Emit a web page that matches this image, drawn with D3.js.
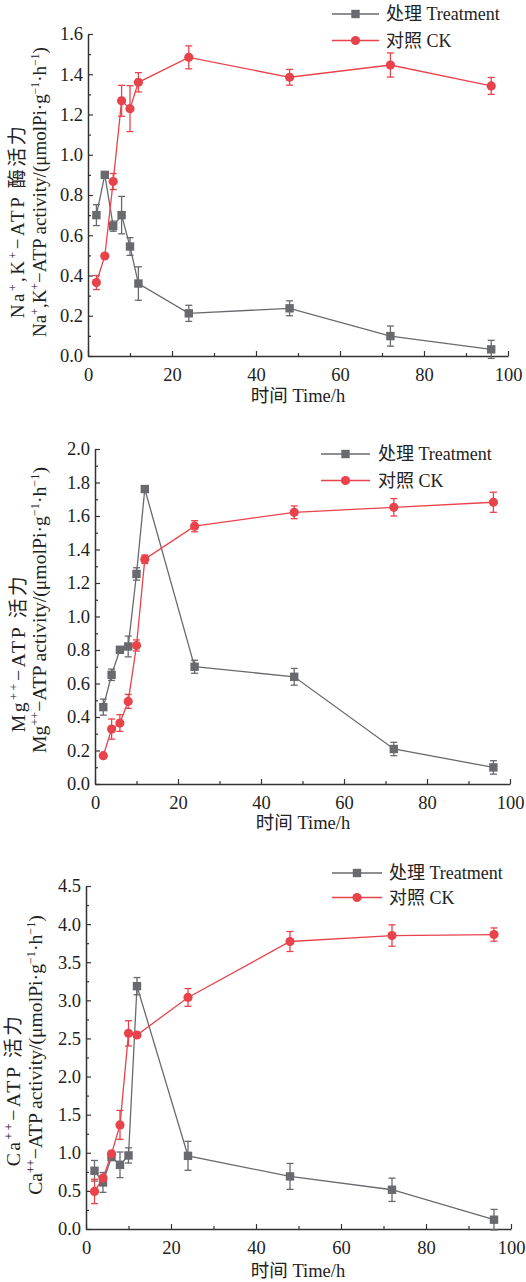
<!DOCTYPE html>
<html><head><meta charset="utf-8">
<script src="https://cdn.jsdelivr.net/npm/d3@7"></script>
<style>
body{margin:0;background:#fff;}
svg{display:block;}
text{font-family:"Liberation Serif","Noto Sans CJK SC",serif;fill:#222;}
</style></head>
<body>
<svg id="c" width="526" height="1282"></svg>
<script>
// ---------- data ----------
const time = [2, 4, 6, 8, 10, 12, 24, 48, 72, 96];
const xTicks = [0, 20, 40, 60, 80, 100];

// Na+,K+-ATP
const naTreat    = [0.70, 0.90, 0.645, 0.70, 0.544, 0.36, 0.212, 0.237, 0.099, 0.033];
const naTreatErr = [0.052, 0.012, 0.025, 0.093, 0.044, 0.083, 0.04, 0.037, 0.05, 0.045];
const naCK       = [0.365, 0.497, 0.867, 1.268, 1.229, 1.36, 1.484, 1.385, 1.446, 1.342];
const naCKErr    = [0.035, 0.01, 0.04, 0.077, 0.114, 0.048, 0.057, 0.039, 0.06, 0.042];
const naYTicks   = [0.0, 0.2, 0.4, 0.6, 0.8, 1.0, 1.2, 1.4, 1.6];

// Mg++-ATP
const mgTreat    = [0.459, 0.652, 0.801, 0.821, 1.254, 1.761, 0.70, 0.64, 0.209, 0.099];
const mgTreatErr = [0.048, 0.034, 0.02, 0.062, 0.037, 0.02, 0.039, 0.05, 0.04, 0.04];
const mgCK       = [0.169, 0.328, 0.364, 0.493, 0.827, 1.342, 1.539, 1.622, 1.652, 1.682];
const mgCKErr    = [0.01, 0.06, 0.05, 0.042, 0.033, 0.025, 0.033, 0.038, 0.052, 0.06];
const mgYTicks   = [0.0, 0.2, 0.4, 0.6, 0.8, 1.0, 1.2, 1.4, 1.6, 1.8, 2.0];

// Ca++-ATP
const caTreat    = [0.764, 0.611, 0.943, 0.842, 0.965, 3.186, 0.96, 0.69, 0.515, 0.122];
const caTreatErr = [0.135, 0.13, 0.036, 0.168, 0.1, 0.113, 0.19, 0.17, 0.153, 0.135];
const caCK       = [0.493, 0.668, 0.986, 1.366, 2.567, 2.545, 3.038, 3.772, 3.85, 3.863];
const caCKErr    = [0.16, 0.03, 0.03, 0.19, 0.166, 0.03, 0.116, 0.131, 0.14, 0.087];
const caYTicks   = [0.0, 0.5, 1.0, 1.5, 2.0, 2.5, 3.0, 3.5, 4.0, 4.5];

const legendLabels = ["处理 Treatment", "对照 CK"];
const xTitle = "时间 Time/h";

// ---------- style ----------
const colTreat = "#686a6e";
const colCK = "#e8434b";
const axisCol = "#333";

const svg = d3.select("#c");

function yTitleParts(ion) {
  if (ion === "na") return [
    [["Na",0],["+",1],[",K",0],["+",1],["−ATP 酶活力",0]],
    [["Na",0],["+",1],[",K",0],["+",1],["−ATP activity/(μmolPi·g",0],["−1",1],["·h",0],["−1",1],[")",0]]
  ];
  if (ion === "mg") return [
    [["Mg",0],["++",1],["−ATP 活力",0]],
    [["Mg",0],["++",1],["−ATP activity/(μmolPi·g",0],["−1",1],["·h",0],["−1",1],[")",0]]
  ];
  return [
    [["Ca",0],["++",1],["−ATP 活力",0]],
    [["Ca",0],["++",1],["−ATP activity/(μmolPi·g",0],["−1",1],["·h",0],["−1",1],[")",0]]
  ];
}

function panel(cfg) {
  const g = svg.append("g");
  const x = d3.scaleLinear().domain([0, 100]).range([cfg.left, cfg.right]);
  const y = d3.scaleLinear().domain([0, cfg.yTicks[cfg.yTicks.length - 1]]).range([cfg.bottom, cfg.top]);

  // minor ticks
  const xMinor = d3.range(10, 100, 20);
  g.append("g").attr("transform", `translate(0,${cfg.bottom})`)
    .call(d3.axisBottom(x).tickValues(xMinor).tickSize(-3).tickFormat("").tickSizeOuter(0))
    .call(s => s.select(".domain").remove())
    .selectAll("line").attr("stroke", axisCol).attr("stroke-width", 1.2);
  const yMinor = cfg.yTicks.slice(0, -1).map((v, i) => (v + cfg.yTicks[i + 1]) / 2);
  g.append("g").attr("transform", `translate(${cfg.left},0)`)
    .call(d3.axisLeft(y).tickValues(yMinor).tickSize(-3).tickFormat("").tickSizeOuter(0))
    .call(s => s.select(".domain").remove())
    .selectAll("line").attr("stroke", axisCol).attr("stroke-width", 1.2);

  // major axes
  const xa = g.append("g").attr("transform", `translate(0,${cfg.bottom})`)
    .call(d3.axisBottom(x).tickValues(xTicks).tickSize(-5).tickPadding(8).tickSizeOuter(0).tickFormat(d3.format("d")));
  const ya = g.append("g").attr("transform", `translate(${cfg.left},0)`)
    .call(d3.axisLeft(y).tickValues(cfg.yTicks).tickSize(-5).tickPadding(5).tickSizeOuter(0).tickFormat(d3.format(".1f")));
  [xa, ya].forEach(a => {
    a.select(".domain").attr("stroke", axisCol).attr("stroke-width", 1.5);
    a.selectAll(".tick line").attr("stroke", axisCol).attr("stroke-width", 1.2);
    a.selectAll(".tick text").attr("font-size", 18.5).attr("fill", "#222")
      .style("font-family", '"Liberation Serif",serif');
  });
  xa.selectAll(".tick text").attr("dy", "0.9em");

  // series
  const series = [
    {v: cfg.treat, e: cfg.treatErr, col: colTreat, shape: "sq"},
    {v: cfg.ck, e: cfg.ckErr, col: colCK, shape: "ci"}
  ];
  series.forEach(s => {
    const pts = time.map((t, i) => ({t, v: s.v[i], e: s.e[i]}));
    g.append("path").datum(pts)
      .attr("fill", "none").attr("stroke", s.col).attr("stroke-width", 1.3)
      .attr("d", d3.line().x(d => x(d.t)).y(d => y(d.v)));
    const eb = g.append("g").attr("stroke", s.col).attr("stroke-width", 1.3);
    pts.forEach(d => {
      const cx = x(d.t), y1 = y(d.v + d.e), y2 = y(d.v - d.e);
      eb.append("line").attr("x1", cx).attr("x2", cx).attr("y1", y1).attr("y2", y2);
      eb.append("line").attr("x1", cx - 3.5).attr("x2", cx + 3.5).attr("y1", y1).attr("y2", y1);
      eb.append("line").attr("x1", cx - 3.5).attr("x2", cx + 3.5).attr("y1", y2).attr("y2", y2);
    });
    const mk = g.append("g").attr("fill", s.col);
    pts.forEach(d => {
      if (s.shape === "sq") mk.append("rect").attr("x", x(d.t) - 4.2).attr("y", y(d.v) - 4.2).attr("width", 8.4).attr("height", 8.4);
      else mk.append("circle").attr("cx", x(d.t)).attr("cy", y(d.v)).attr("r", 4.6);
    });
  });

  // legend
  const L = cfg.legend;
  [[colTreat, "sq"], [colCK, "ci"]].forEach(([col, shape], i) => {
    const yy = L.y + i * L.dy;
    g.append("line").attr("x1", L.x1).attr("x2", L.x2).attr("y1", yy).attr("y2", yy)
      .attr("stroke", col).attr("stroke-width", 1.3);
    const mx = (L.x1 + L.x2) / 2;
    if (shape === "sq") g.append("rect").attr("x", mx - 4.2).attr("y", yy - 4.2).attr("width", 8.4).attr("height", 8.4).attr("fill", col);
    else g.append("circle").attr("cx", mx).attr("cy", yy).attr("r", 4.6).attr("fill", col);
    g.append("text").attr("x", L.tx).attr("y", yy).attr("dy", "0.35em")
      .attr("font-size", 18).text(legendLabels[i]);
  });

  // x title
  g.append("text").attr("x", cfg.xt[0]).attr("y", cfg.xt[1]).attr("text-anchor", "middle")
    .attr("font-size", 18.5).text(xTitle);

  // y titles: font size fitted so the long line spans its measured length,
  // short line uses same size plus a little letter spacing
  const parts = yTitleParts(cfg.ion);
  const mkTitle = (line, cx, cy, fs) => {
    const t = g.append("text").attr("transform", `translate(${cx},${cy}) rotate(-90)`)
      .attr("text-anchor", "middle").attr("dy", "0.35em").attr("font-size", fs);
    line.forEach(([txt, sup]) => {
      const ts = t.append("tspan").text(txt);
      if (sup) ts.attr("font-size", fs * 0.62).attr("baseline-shift", "super");
    });
    return t;
  };
  const [c2x, c2y, len2] = cfg.yt[1];
  const t2 = mkTitle(parts[1], c2x, c2y, 18);
  const fs = Math.min(22, 18 * len2 / t2.node().getComputedTextLength());
  t2.remove();
  mkTitle(parts[1], c2x, c2y, fs);
  const [c1x, c1y, len1] = cfg.yt[0];
  const t1 = mkTitle(parts[0], c1x, c1y, fs);
  const n1 = parts[0].map(p => p[0]).join("").length;
  const ls = Math.max(0, Math.min(2.5, (len1 - t1.node().getComputedTextLength()) / n1));
  t1.attr("letter-spacing", ls);
}

panel({ion: "na", left: 88, right: 508, top: 34, bottom: 356, yTicks: naYTicks,
  treat: naTreat, treatErr: naTreatErr, ck: naCK, ckErr: naCKErr,
  legend: {x1: 332, x2: 379, y: 14, dy: 26.5, tx: 386},
  xt: [298, 402], yt: [[17, 221, 215], [39, 192, 290]]});

panel({ion: "mg", left: 95, right: 510, top: 449, bottom: 784, yTicks: mgYTicks,
  treat: mgTreat, treatErr: mgTreatErr, ck: mgCK, ckErr: mgCKErr,
  legend: {x1: 321, x2: 370, y: 454, dy: 26.5, tx: 378},
  xt: [303, 829], yt: [[18, 653, 200], [39, 610, 286]]});

panel({ion: "ca", left: 86, right: 511, top: 886, bottom: 1229, yTicks: caYTicks,
  treat: caTreat, treatErr: caTreatErr, ck: caCK, ckErr: caCKErr,
  legend: {x1: 332, x2: 382, y: 873, dy: 24.5, tx: 389},
  xt: [298, 1277], yt: [[13, 1090, 188], [35, 1055, 280]]});
</script>
</body></html>
